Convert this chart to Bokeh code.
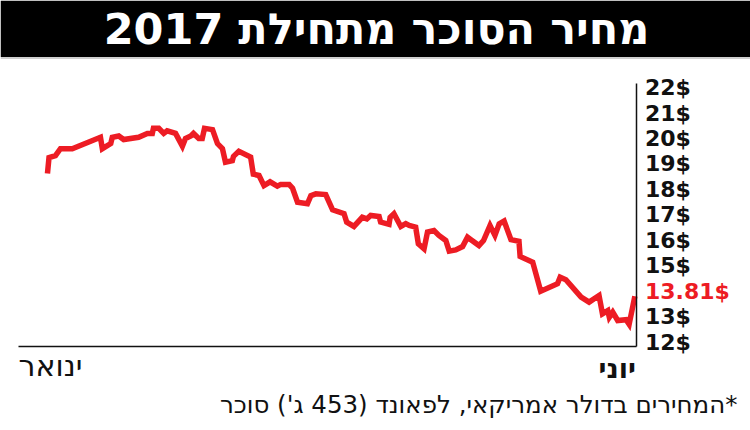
from bokeh.plotting import figure
from bokeh.models import Range1d, Label, FixedTicker, BoxAnnotation, Span
from bokeh.embed import file_html
from bokeh.resources import INLINE

# ---- data ----
TITLE = "מחיר הסוכר מתחילת 2017"
MONTH_START = "ינואר"
MONTH_END = "יוני"
NOTE = "\u200f*המחירים בדולר אמריקאי, לפאונד (453 ג') סוכר"
LAST_PRICE_LABEL = "13.81$"
LAST_PRICE_TICK = 14

days = [7.6, 8.0, 9.7, 11.0, 14.1, 21.5, 22.0, 24.2, 24.6, 26.3, 27.6, 31.5, 33.8,
        35.1, 35.4, 36.8, 38.1, 39.0, 41.2, 43.0, 43.8, 45.2, 45.9, 47.3, 48.2, 48.8,
        50.9, 52.2, 53.5, 54.3, 56.1, 56.4, 57.8, 60.9, 61.6, 63.1, 64.4, 66.0, 67.9,
        68.8, 71.0, 71.9, 73.2, 75.8, 76.7, 78.0, 80.6, 82.4, 85.4, 86.1, 88.0, 90.2,
        91.4, 92.4, 94.6, 95.0, 97.2, 97.5, 98.5, 100.3, 101.6, 102.5, 104.2, 104.9,
        106.4, 107.3, 109.0, 110.3, 112.1, 113.0, 114.7, 116.5, 117.8, 118.7, 120.8,
        122.0, 123.7, 125.0, 126.1, 127.4, 129.2, 131.3, 131.6, 134.9, 137.0, 141.4,
        142.1, 143.6, 147.6, 149.7, 152.3, 153.2, 154.6, 155.0, 155.9, 157.2, 159.4,
        160.2, 161.7]
prices = [18.63, 19.25, 19.33, 19.6, 19.6, 20.05, 19.6, 19.8, 20.05, 20.1, 19.96, 20.05,
          20.2, 20.2, 20.4, 20.4, 20.2, 20.3, 20.2, 19.7, 20.0, 20.1, 20.2, 20.0, 20.0,
          20.4, 20.35, 19.8, 19.6, 19.07, 19.13, 19.3, 19.5, 19.27, 18.6, 18.55, 18.15,
          18.3, 18.13, 18.2, 18.2, 18.05, 17.5, 17.44, 17.76, 17.83, 17.8, 17.2, 17.05,
          16.72, 16.55, 16.91, 16.85, 16.98, 16.94, 16.72, 16.63, 16.91, 17.05, 16.55,
          16.66, 16.59, 16.52, 15.87, 15.67, 16.33, 16.39, 16.2, 16.0, 15.58, 15.63,
          15.76, 16.13, 16.03, 15.8, 16.0, 16.59, 16.2, 16.65, 16.76, 16.03, 15.97,
          15.37, 15.15, 14.01, 14.3, 14.56, 14.46, 13.78, 13.58, 13.84, 13.12, 13.25,
          12.99, 13.19, 12.86, 12.89, 12.71, 13.81]
y_ticks = [12, 13, 14, 15, 16, 17, 18, 19, 20, 21, 22]
y_tick_labels = ["12$", "13$", "", "15$", "16$", "17$", "18$", "19$", "20$", "21$", "22$"]

# ---- layout (canvas pixels) ----
RED = "#ED1C24"
INK = "#111111"
W, H = 750, 430
X0, X1 = 0, 162          # data extent of the time axis
Y0, Y1 = 11.84, 22.17    # data extent of the price axis
PX_L, PX_R = 18, 635.5   # canvas x of X0, X1
PY_B, PY_T = 346, 82.7   # canvas y of Y0, Y1

ppx = (PX_R - PX_L) / (X1 - X0)
ppy = (PY_B - PY_T) / (Y1 - Y0)


def dx(px):
    return X0 + (px - PX_L) / ppx


def dy(py):
    return Y0 + (PY_B - py) / ppy


p = figure(width=W, height=H, x_range=Range1d(dx(0), dx(W)), y_range=Range1d(dy(H), dy(0)),
           y_axis_location="right", toolbar_location=None, output_backend="svg",
           min_border=0, min_border_left=0, min_border_right=0,
           min_border_top=0, min_border_bottom=0)
p.grid.visible = False
p.outline_line_color = None
p.background_fill_color = "white"
p.border_fill_color = "white"

# title bar
p.add_layout(BoxAnnotation(bottom=dy(56.5), fill_color="black", fill_alpha=1.0,
                           line_color=None, level="underlay"))
p.add_layout(Span(location=dy(57.5), dimension="width", line_color="#a0a0a0", line_width=1))
p.add_layout(Label(x=dx(376), y=dy(28.5), text=TITLE, text_align="center",
                   text_baseline="middle", text_color="white", text_font="DejaVu Sans",
                   text_font_style="bold", text_font_size="43px"))

# price line
p.line(days, prices, line_color=RED, line_width=5.5, line_join="miter")

# axes
p.yaxis.fixed_location = X1
p.yaxis.bounds = (Y0, Y1)
p.yaxis.ticker = FixedTicker(ticks=y_ticks, minor_ticks=[])
p.yaxis.major_label_overrides = {t: l for t, l in zip(y_ticks, y_tick_labels)}
p.yaxis.major_tick_line_color = None
p.yaxis.minor_tick_line_color = None
p.yaxis.major_tick_out = 0
p.yaxis.major_tick_in = 0
p.yaxis.major_label_standoff = 9
p.yaxis.axis_line_color = INK
p.yaxis.axis_line_width = 1.5
p.yaxis.major_label_text_font = "DejaVu Sans"
p.yaxis.major_label_text_font_style = "bold"
p.yaxis.major_label_text_font_size = "22px"
p.yaxis.major_label_text_color = INK

p.xaxis.fixed_location = Y0
p.xaxis.bounds = (X0, X1)
p.xaxis.ticker = FixedTicker(ticks=[], minor_ticks=[])
p.xaxis.major_label_text_font_size = "0px"
p.xaxis.major_tick_line_color = None
p.xaxis.minor_tick_line_color = None
p.xaxis.axis_line_color = INK
p.xaxis.axis_line_width = 1.5

# highlighted last price on the axis
p.add_layout(Label(x=X1, y=LAST_PRICE_TICK, x_offset=9, text=LAST_PRICE_LABEL,
                   text_align="left", text_baseline="middle", text_color=RED,
                   text_font="DejaVu Sans", text_font_style="bold", text_font_size="22px"))

# month labels and footnote
p.add_layout(Label(x=X0, y=dy(365), text=MONTH_START, text_align="left",
                   text_baseline="middle", text_color=INK,
                   text_font="DejaVu Sans", text_font_size="30px"))
p.add_layout(Label(x=X1, y=dy(368), text=MONTH_END, text_align="right",
                   text_baseline="middle", text_color=INK,
                   text_font="DejaVu Sans", text_font_style="bold", text_font_size="27px"))
p.add_layout(Label(x=dx(737), y=dy(404), text=NOTE, text_align="right",
                   text_baseline="middle", text_color=INK,
                   text_font="DejaVu Sans", text_font_size="24.5px"))

open("out.html", "w").write(file_html(p, INLINE))
